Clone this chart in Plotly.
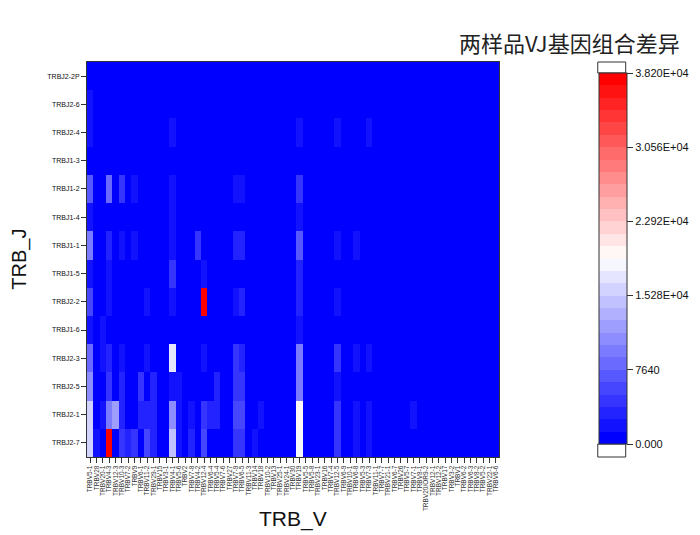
import plotly.graph_objects as go

v_genes = ["TRBV5-1", "TRBV28", "TRBV20-1", "TRBV4-3", "TRBV12-3", "TRBV10-3", "TRBV7-2", "TRBV9",
           "TRBV6-1", "TRBV11-2", "TRBV29-1", "TRBV15", "TRBV3-1", "TRBV4-1", "TRBV5-6", "TRBV2",
           "TRBV7-8", "TRBV4-2", "TRBV12-4", "TRBV6-4", "TRBV5-4", "TRBV7-6", "TRBV27", "TRBV7-9",
           "TRBV6-5", "TRBV11-3", "TRBV14", "TRBV18", "TRBV10-2", "TRBV13", "TRBV25-1", "TRBV24-1",
           "TRBV30", "TRBV19", "TRBV5-5", "TRBV5-8", "TRBV23-1", "TRBV16", "TRBV7-4", "TRBV12-5",
           "TRBV6-9", "TRBV10-1", "TRBV6-8", "TRBV5-3", "TRBV7-3", "TRBV11-1", "TRBV7-7", "TRBV21-1",
           "TRBV6-7", "TRBV26", "TRBV5-7", "TRBV7-1", "TRBV8-1", "TRBV20/OR9-2", "TRBV12-1", "TRBV12-2",
           "TRBV17", "TRBV3-2", "TRBV1", "TRBV6-2", "TRBV6-3", "TRBV8-2", "TRBV5-2", "TRBV22-1", "TRBV6-6"]

# J genes listed top to bottom
j_genes = ["TRBJ2-2P", "TRBJ2-6", "TRBJ2-4", "TRBJ1-3", "TRBJ1-2", "TRBJ1-4", "TRBJ1-1",
           "TRBJ1-5", "TRBJ2-2", "TRBJ1-6", "TRBJ2-3", "TRBJ2-5", "TRBJ2-1", "TRBJ2-7"]

# non-zero cells per J gene: {column number (1-based V index): value}
J2_2P = {}
J2_6 = {1: 2000}
J2_4 = {1: 1500, 14: 1500, 34: 1500, 40: 1500, 45: 2500}
J1_3 = {43: 1000}
J1_2 = {1: 7000, 4: 8400, 6: 4000, 8: 2500, 14: 2500, 24: 2000, 25: 2000, 34: 5000, 43: 1000}
J1_4 = {1: 1500, 14: 1500, 34: 2000}
J1_1 = {1: 9500, 4: 3500, 6: 2500, 8: 2500, 14: 2000, 18: 4000, 24: 3000, 25: 3000, 34: 7200,
        40: 1500, 43: 1500}
J1_5 = {1: 1500, 4: 2000, 14: 5000, 19: 1500, 34: 3000, 43: 1000}
J2_2 = {1: 5500, 4: 2500, 10: 1500, 14: 2000, 19: 38200, 24: 1500, 25: 3000, 34: 3000,
        40: 1500, 43: 1000}
J1_6 = {1: 1500, 3: 1500, 34: 1500}
J2_3 = {1: 8000, 3: 1500, 4: 3000, 6: 1500, 10: 1500, 14: 17500, 19: 1500, 24: 4000, 25: 3000,
        34: 9500, 40: 5000, 43: 1500, 45: 1500, 48: 1000}
J2_5 = {1: 10800, 4: 4500, 6: 3000, 9: 5000, 11: 3000, 14: 2500, 15: 2500, 21: 3000, 24: 4500,
        25: 4500, 34: 10000, 40: 2000, 43: 1000}
J2_1 = {1: 16500, 3: 1500, 4: 9500, 5: 12000, 6: 3000, 9: 3000, 10: 3000, 11: 3000, 14: 11000,
        15: 2500, 17: 2000, 19: 5000, 20: 3000, 21: 3000, 24: 6000, 25: 6000, 28: 2000, 34: 19500,
        40: 4000, 43: 2500, 45: 2000, 52: 1500}
J2_7 = {1: 16500, 2: 2500, 4: 38200, 6: 4500, 7: 3500, 8: 4000, 10: 6000, 11: 3000, 14: 15000,
        15: 2500, 17: 3000, 19: 6000, 24: 5000, 25: 5000, 27: 2000, 34: 18000, 40: 5000, 43: 2500,
        45: 2000}

rows = [J2_2P, J2_6, J2_4, J1_3, J1_2, J1_4, J1_1, J1_5, J2_2, J1_6, J2_3, J2_5, J2_1, J2_7]

cb_tickvals = [0, 7640, 15280, 22920, 30560, 38200]
cb_ticktext = ["0.000", "7640", "1.528E+04", "2.292E+04", "3.056E+04", "3.820E+04"]
zmax = 38200

z = [[r.get(i + 1, 0) for i in range(len(v_genes))] for r in rows]

# stepped blue-white-red colour scale
n = 30
cs = []
for i in range(n):
    t = i / (n - 1)
    if t <= 0.5:
        f = t / 0.5
        c = (round(255 * f), round(255 * f), 255)
    else:
        f = (t - 0.5) / 0.5
        c = (255, round(255 * (1 - f)), round(255 * (1 - f)))
    col = "rgb(%d,%d,%d)" % c
    cs.append([i / n, col])
    cs.append([(i + 1) / n, col])

# page body adds an 8px offset; work in page coordinates and subtract it
O = 8
W, H = 700 - O, 535 - O
L, R, T, B = 87 - O, 500 - O, 62 - O, 457 - O
pw, ph = R - L, B - T

def px(x):
    return (x - O - L) / pw

def py(y):
    return (B - (y - O)) / ph

fig = go.Figure(go.Heatmap(
    z=z, x=v_genes, y=j_genes, zmin=0, zmax=zmax, colorscale=cs,
    colorbar=dict(
        x=px(599), xanchor="left", xpad=0,
        y=py((73 + 444) / 2), yanchor="middle", ypad=0,
        len=(444 - 73) / ph, lenmode="fraction",
        thickness=28, thicknessmode="pixels",
        outlinewidth=1, outlinecolor="#333",
        tickvals=cb_tickvals, ticktext=cb_ticktext,
        ticks="outside", ticklen=6, tickcolor="#333",
        tickfont=dict(family="Liberation Sans, Arial", size=11, color="#111"),
    ),
))

fig.update_layout(
    width=W, height=H,
    margin=dict(l=L, r=W - R, t=T, b=H - B),
    paper_bgcolor="white", plot_bgcolor="white",
    font=dict(family="Liberation Sans, Arial", color="#111"),
    xaxis=dict(type="category", tickmode="array", tickvals=v_genes, ticktext=v_genes,
               tickangle=-90, tickfont=dict(size=6.5, color="#333"),
               ticks="outside", ticklen=5, tickcolor="#333", showline=True, mirror=True,
               linecolor="#333", linewidth=1, showgrid=False, zeroline=False),
    yaxis=dict(type="category", autorange="reversed", tickfont=dict(size=7, color="#111"),
               ticks="outside", ticklen=5, tickcolor="#333", showline=True, mirror=True,
               linecolor="#333", linewidth=1, showgrid=False, zeroline=False),
    shapes=[
        dict(type="rect", xref="paper", yref="paper", x0=px(599), x1=px(627),
             y0=py(62), y1=py(73), fillcolor="white", line=dict(color="#333", width=1)),
        dict(type="rect", xref="paper", yref="paper", x0=px(599), x1=px(627),
             y0=py(444), y1=py(457), fillcolor="white", line=dict(color="#333", width=1)),
    ],
    annotations=[
        dict(text="两样品VJ基因组合差异", xref="paper", yref="paper", x=px(571), y=py(42),
             xanchor="center", yanchor="middle", showarrow=False,
             font=dict(family="Noto Sans CJK SC", size=22, color="#222")),
        dict(text="TRB_J", xref="paper", yref="paper", x=px(19), y=0.5, textangle=-90,
             xanchor="center", yanchor="middle", showarrow=False,
             font=dict(family="Liberation Sans, Arial", size=20, color="#111")),
        dict(text="TRB_V", xref="paper", yref="paper", x=0.5, y=py(519),
             xanchor="center", yanchor="middle", showarrow=False,
             font=dict(family="Liberation Sans, Arial", size=21, color="#111")),
    ],
)

fig.write_html("out.html")
